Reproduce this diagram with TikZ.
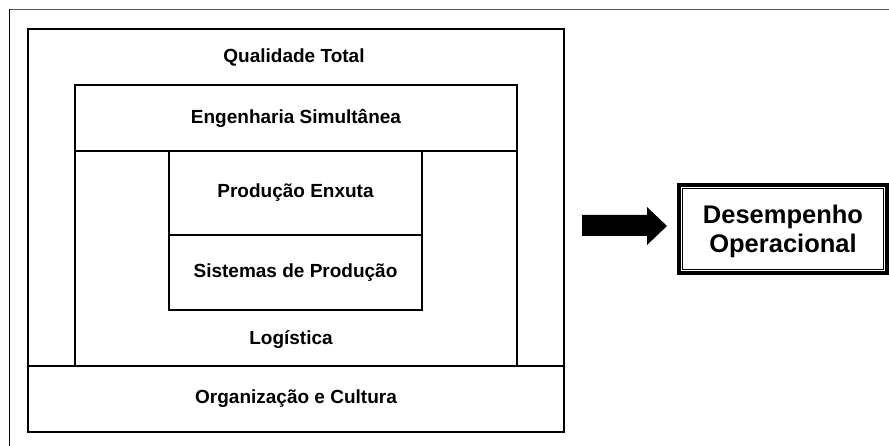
\documentclass[tikz,border=0pt]{standalone}
\usepackage{fontspec}
\setmainfont{Liberation Sans}
\begin{document}
\begin{tikzpicture}[x=1pt,y=-1pt,
  box/.style={draw=black, line width=1.4pt, rectangle, inner sep=0pt, outer sep=0pt},
  lbl/.style={font=\bfseries\fontsize{19}{22}\selectfont, inner sep=0pt},
  big/.style={font=\bfseries\fontsize{25.5}{29}\selectfont, align=center, inner sep=0pt}]
\useasboundingbox (0,0) rectangle (889,446);
% outer frame (only left and top edges visible)
\coordinate (fbl) at (9.5,446);
\coordinate (ftl) at (9.5,9.5);
\coordinate (ftr) at (889,9.5);
\draw[line width=1.3pt] (fbl) -- (ftl);
\draw[line width=1.3pt, draw=black!65] (ftl) -- (ftr);
% nested boxes
\node[box, minimum width=536, minimum height=403] (qt) at (296,230.5) {};
\node[box, minimum width=442, minimum height=215] (log) at (296,258.5) {};
\node[box, minimum width=442, minimum height=66] (es) at (296,118) {};
\node[box, minimum width=253, minimum height=84] (pe) at (295.5,193) {};
\node[box, minimum width=253, minimum height=75] (sp) at (295.5,272.5) {};
\node[box, minimum width=536, minimum height=66] (oc) at (296,399) {};
% labels
\node[lbl] (tqt) at (294,57) {Qualidade Total};
\node[lbl] at (es) {Engenharia Simultânea};
\node[lbl] at (pe) {Produção Enxuta};
\node[lbl] at (sp) {Sistemas de Produção};
\node[lbl] (tlog) at (291,340) {Logística};
\node[lbl] at (oc) {Organização e Cultura};
% result box
\node[draw=black, line width=3.5pt, minimum width=208, minimum height=88, inner sep=0pt] (dop) at (783,229) {};
\draw[line width=1.4pt] ([shift={(5.5pt,-5.5pt)}]dop.north west) rectangle ([shift={(-5.5pt,5.5pt)}]dop.south east);
\node[big] (dtx) at (783,231) {Desempenho\\Operacional};
% block arrow
\coordinate (as) at (582,225.5);
\coordinate (at) at (667,226);
\fill[black] (582,215) -- (647,215) -- (647,207) -- (at) -- (647,245) -- (647,236) -- (582,236) -- cycle;
\end{tikzpicture}
\end{document}
